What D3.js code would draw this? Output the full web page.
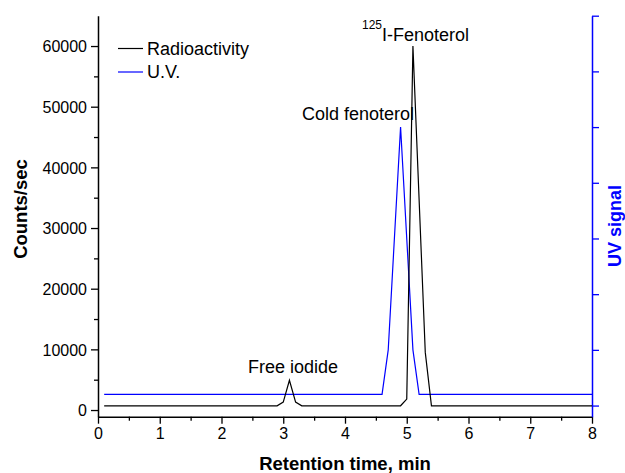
<!DOCTYPE html>
<html>
<head>
<meta charset="utf-8">
<script src="https://cdn.jsdelivr.net/npm/d3@7"></script>
<style>
  body { margin: 0; background: #fff; }
  svg { display: block; font-family: "Liberation Sans", Arial, sans-serif; }
  .domain { stroke-width: 1.5px; }
  .tick line { stroke-width: 1.3px; }
</style>
</head>
<body>
<svg id="chart" width="625" height="473"></svg>
<script>
// radioactivity trace (counts/sec)
const radioTime = [0.1, 2.9, 3.0, 3.1, 3.2, 3.3, 4.9, 5.0, 5.1, 5.3, 5.4, 8.0]
const radioCounts = [700, 700, 1300, 4900, 1300, 700, 700, 1800, 60000, 9500, 700, 700]

// UV trace (arbitrary units, right axis)
const uvTime = [0.1, 4.6, 4.7, 4.9, 5.1, 5.2, 8.0]
const uvSignal = [0.2, 0.2, 1.0, 5.0, 1.0, 0.2, 0.2]

const xTicks = [0, 1, 2, 3, 4, 5, 6, 7, 8]
const yTicks = [0, 10000, 20000, 30000, 40000, 50000, 60000]
const uvTicks = [0, 1, 2, 3, 4, 5, 6, 7]

const legendItems = [
    { name: 'Radioactivity', color: '#000' },
    { name: 'U.V.', color: '#0000ff' }
]

const plotLeft = 98, plotRight = 592, plotTop = 15.7, plotBottom = 416.7
const svg = d3.select('#chart')

const x = d3.scaleLinear().domain([0, 8]).range([plotLeft, plotRight])
const y = d3.scaleLinear().domain([-1100, 65000]).range([plotBottom, plotTop])
const yUV = d3.scaleLinear().domain([-0.2, 7]).range([plotBottom, plotTop])

// minor ticks first, majors on top
svg.append('g')
    .attr('transform', `translate(0,${plotBottom})`)
    .call(d3.axisBottom(x).tickValues(d3.range(0.5, 8, 1)).tickSize(4).tickFormat(''))
    .call(g => g.select('.domain').remove())
svg.append('g')
    .attr('transform', `translate(${plotLeft},0)`)
    .call(d3.axisLeft(y).tickValues(d3.range(5000, 65000, 10000)).tickSize(4).tickFormat(''))
    .call(g => g.select('.domain').remove())

const xAxis = svg.append('g')
    .attr('transform', `translate(0,${plotBottom})`)
    .call(d3.axisBottom(x).tickValues(xTicks).tickSize(7).tickSizeOuter(0).tickPadding(4))
xAxis.selectAll('text').attr('font-size', 16).attr('fill', '#000')

const yAxis = svg.append('g')
    .attr('transform', `translate(${plotLeft},0)`)
    .call(d3.axisLeft(y).tickValues(yTicks).tickSize(7).tickSizeOuter(0).tickPadding(4).tickFormat(d3.format('d')))
yAxis.selectAll('text').attr('font-size', 16).attr('fill', '#000').attr('dy', '0.36em')

const uvAxis = svg.append('g')
    .attr('transform', `translate(${plotRight},0)`)
    .call(d3.axisRight(yUV).tickValues(uvTicks).tickSize(7).tickSizeOuter(0).tickFormat(''))
uvAxis.selectAll('.domain, line').attr('stroke', '#0000ff')

// traces
const radioLine = d3.line().x((d, i) => x(radioTime[i])).y(d => y(d))
const uvLine = d3.line().x((d, i) => x(uvTime[i])).y(d => yUV(d))

svg.append('path')
    .attr('d', uvLine(uvSignal))
    .attr('fill', 'none').attr('stroke', '#0000ff').attr('stroke-width', 1.2)
svg.append('path')
    .attr('d', radioLine(radioCounts))
    .attr('fill', 'none').attr('stroke', '#000').attr('stroke-width', 1.2)

// axis titles
svg.append('text')
    .attr('x', (plotLeft + plotRight) / 2).attr('y', 470)
    .attr('text-anchor', 'middle').attr('font-weight', 'bold').attr('font-size', 18.5)
    .text('Retention time, min')
svg.append('text')
    .attr('transform', 'translate(27,209) rotate(-90)')
    .attr('text-anchor', 'middle').attr('font-weight', 'bold').attr('font-size', 18.5)
    .text('Counts/sec')
svg.append('text')
    .attr('transform', 'translate(620.5,226) rotate(-90)')
    .attr('text-anchor', 'middle').attr('font-weight', 'bold').attr('font-size', 18)
    .attr('fill', '#0000ff')
    .text('UV signal')

// peak labels
const fenoLabel = svg.append('text').attr('x', 362).attr('y', 40.5).attr('font-size', 18)
fenoLabel.append('tspan').attr('font-size', 12).attr('dy', -12).text('125')
fenoLabel.append('tspan').attr('dy', 12).text('I-Fenoterol')
svg.append('text').attr('x', 302).attr('y', 120).attr('font-size', 18).text('Cold fenoterol')
svg.append('text').attr('x', 248).attr('y', 372.7).attr('font-size', 18).text('Free iodide')

// legend
const legend = svg.append('g').attr('transform', 'translate(118,48.5)')
legendItems.forEach((d, i) => {
    legend.append('line')
        .attr('x1', 0).attr('x2', 25).attr('y1', i * 23.5).attr('y2', i * 23.5)
        .attr('stroke', d.color).attr('stroke-width', 1.2)
    legend.append('text')
        .attr('x', 29).attr('y', i * 23.5 + 6).attr('font-size', 18)
        .text(d.name)
})
</script>
</body>
</html>
